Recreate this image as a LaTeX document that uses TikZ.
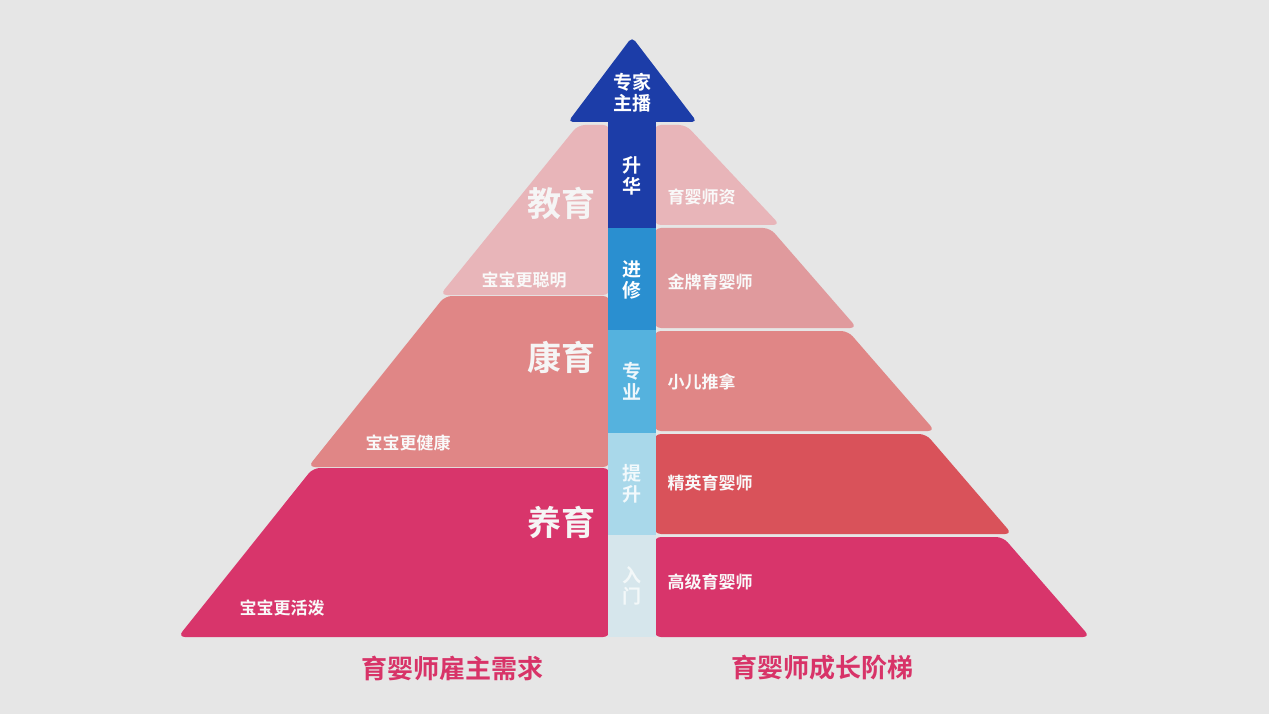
\documentclass[tikz,border=0pt]{standalone}
\usepackage{fontspec}
\setmainfont{Noto Sans CJK SC Bold}
\begin{document}
\begin{tikzpicture}[x=1pt,y=-1pt,
  tier/.style={rounded corners=7pt},
  big/.style={font=\fontsize{34}{34}\selectfont,text=white!92!gray},
  small/.style={font=\fontsize{17}{17}\selectfont,text=white!95!gray},
  bar/.style={font=\fontsize{19}{21}\selectfont,align=center,inner sep=0pt},
  foot/.style={font=\fontsize{26}{26}\selectfont,text=foot}]
\definecolor{bg}{HTML}{E6E6E6}
\definecolor{pA}{HTML}{E8B5B9}
\definecolor{pB}{HTML}{E09A9D}
\definecolor{pC}{HTML}{E08686}
\definecolor{pD}{HTML}{D9525A}
\definecolor{pE}{HTML}{D8356B}
\definecolor{foot}{HTML}{D83368}
\definecolor{bA}{HTML}{1C3DA8}
\definecolor{bB}{HTML}{2A8FD0}
\definecolor{bC}{HTML}{55B2DE}
\definecolor{bD}{HTML}{A9D8EA}
\definecolor{bE}{HTML}{D6E6EC}
\fill[bg] (0,0) rectangle (1269,714);
\useasboundingbox (0,0) rectangle (1269,714);
% left tiers
\fill[pA,tier] (610,125) -- (578,125) -- (440,295) -- (610,295) -- cycle;
\fill[pC,tier] (610,296) -- (445,296) -- (308,467) -- (610,467) -- cycle;
\fill[pE,tier] (610,468) -- (313,468) -- (178,637) -- (610,637) -- cycle;
% right tiers
\fill[pA,tier] (654,125) -- (686,125) -- (780,225) -- (654,225) -- cycle;
\fill[pB,tier] (654,228) -- (770,228) -- (857,328) -- (654,328) -- cycle;
\fill[pC,tier] (654,331) -- (848,331) -- (935,431) -- (654,431) -- cycle;
\fill[pD,tier] (654,434) -- (926,434) -- (1012,534) -- (654,534) -- cycle;
\fill[pE,tier] (654,537) -- (1003,537) -- (1090,637) -- (654,637) -- cycle;
% central bar
\fill[bA,rounded corners=5pt] (632,37) -- (697,122) -- (568,122) -- cycle;
\fill[bA] (608,121) rectangle (656,228);
\fill[bB] (608,228) rectangle (656,330);
\fill[bC] (608,330) rectangle (656,433);
\fill[bD] (608,433) rectangle (656,535);
\fill[bE] (608,535) rectangle (656,637);
\node[bar,text=white] (t0) at (632,93) {专家\\主播};
\node[bar,text=white] (t1) at (632,176) {升\\华};
\node[bar,text=white] (t2) at (632,280) {进\\修};
\node[bar,text=white!90!bC] (t3) at (632,381) {专\\业};
\node[bar,text=white!85!bD] (t4) at (632,484) {提\\升};
\node[bar,text=white!70!bE] (t5) at (632,586) {入\\门};
% left labels
\node[big] (l1) at (561,203) {教育};
\node[small] (l1s) at (524,280) {宝宝更聪明};
\node[big] (l2) at (561,357) {康育};
\node[small] (l2s) at (408,443) {宝宝更健康};
\node[big] (l3) at (561,522) {养育};
\node[small] (l3s) at (282,608) {宝宝更活泼};
% right labels
\node[small,anchor=west] (r1) at (664,197) {育婴师资};
\node[small,anchor=west] (r2) at (664,282) {金牌育婴师};
\node[small,anchor=west] (r3) at (664,382) {小儿推拿};
\node[small,anchor=west] (r4) at (664,483) {精英育婴师};
\node[small,anchor=west] (r5) at (664,582) {高级育婴师};
% footers
\node[foot] (f1) at (452,668) {育婴师雇主需求};
\node[foot] (f2) at (822,668) {育婴师成长阶梯};
\end{tikzpicture}
\end{document}
